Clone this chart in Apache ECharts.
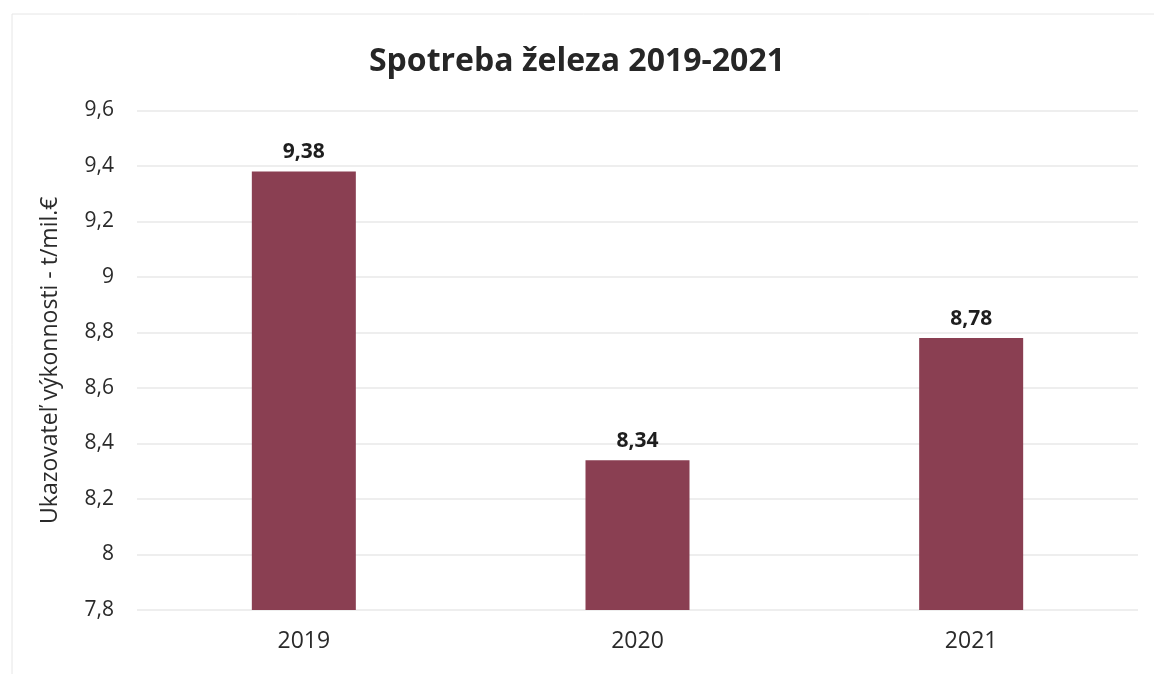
<!DOCTYPE html>
<html>
<head>
<meta charset="utf-8">
<script src="https://cdn.jsdelivr.net/npm/echarts@6/dist/echarts.min.js"></script>
<style>
html,body{margin:0;padding:0;background:#fff;}
#chart{width:1154px;height:674px;}
</style>
</head>
<body>
<div id="chart"></div>
<script>
const categories = ['2019', '2020', '2021'];
const values = [9.38, 8.34, 8.78];
const yTicks = { min: 7.8, max: 9.6, interval: 0.2 };

const FONT = 'Open Sans';
const chart = echarts.init(document.getElementById('chart'));
const fmt = v => String(Math.round(v * 100) / 100).replace('.', ',');
chart.setOption({
  backgroundColor: '#ffffff',
  animation: false,
  textStyle: { fontFamily: FONT },
  graphic: [{
    type: 'rect', shape: { x: 12, y: 14, width: 1160, height: 700 },
    style: { fill: 'none', stroke: '#e6e6e6', lineWidth: 1 }, silent: true
  }],
  title: {
    text: 'Spotreba železa 2019-2021',
    left: 'center', top: 41,
    textStyle: { fontFamily: FONT, fontWeight: 'bold', fontSize: 32, color: '#262626' }
  },
  grid: { left: 137, right: 16, top: 110.5, bottom: 64 },
  xAxis: {
    type: 'category', data: categories,
    axisLine: { show: false }, axisTick: { show: false },
    axisLabel: { fontSize: 23, color: '#2a2a2a', margin: 20, fontFamily: FONT }
  },
  yAxis: {
    type: 'value', min: yTicks.min, max: yTicks.max, interval: yTicks.interval,
    name: 'Ukazovateľ výkonnosti - t/mil.€',
    nameLocation: 'middle', nameGap: 75, nameRotate: 90, nameMoveOverlap: false,
    nameTextStyle: { fontSize: 23, color: '#2a2a2a', fontFamily: FONT },
    axisLabel: { formatter: fmt, fontSize: 21, color: '#2a2a2a', margin: 23, align: 'right', fontFamily: FONT },
    splitLine: { lineStyle: { color: '#e8e8e8', width: 1.5 } },
    axisLine: { show: false }, axisTick: { show: false }
  },
  series: [{
    type: 'bar', data: values, barWidth: 104,
    itemStyle: { color: '#8a3f52' },
    label: {
      show: true, position: 'top', distance: 9,
      formatter: p => p.value.toFixed(2).replace('.', ','),
      fontSize: 21, fontWeight: 'bold', color: '#1e1e1e', fontFamily: FONT
    }
  }]
});
</script>
</body>
</html>
